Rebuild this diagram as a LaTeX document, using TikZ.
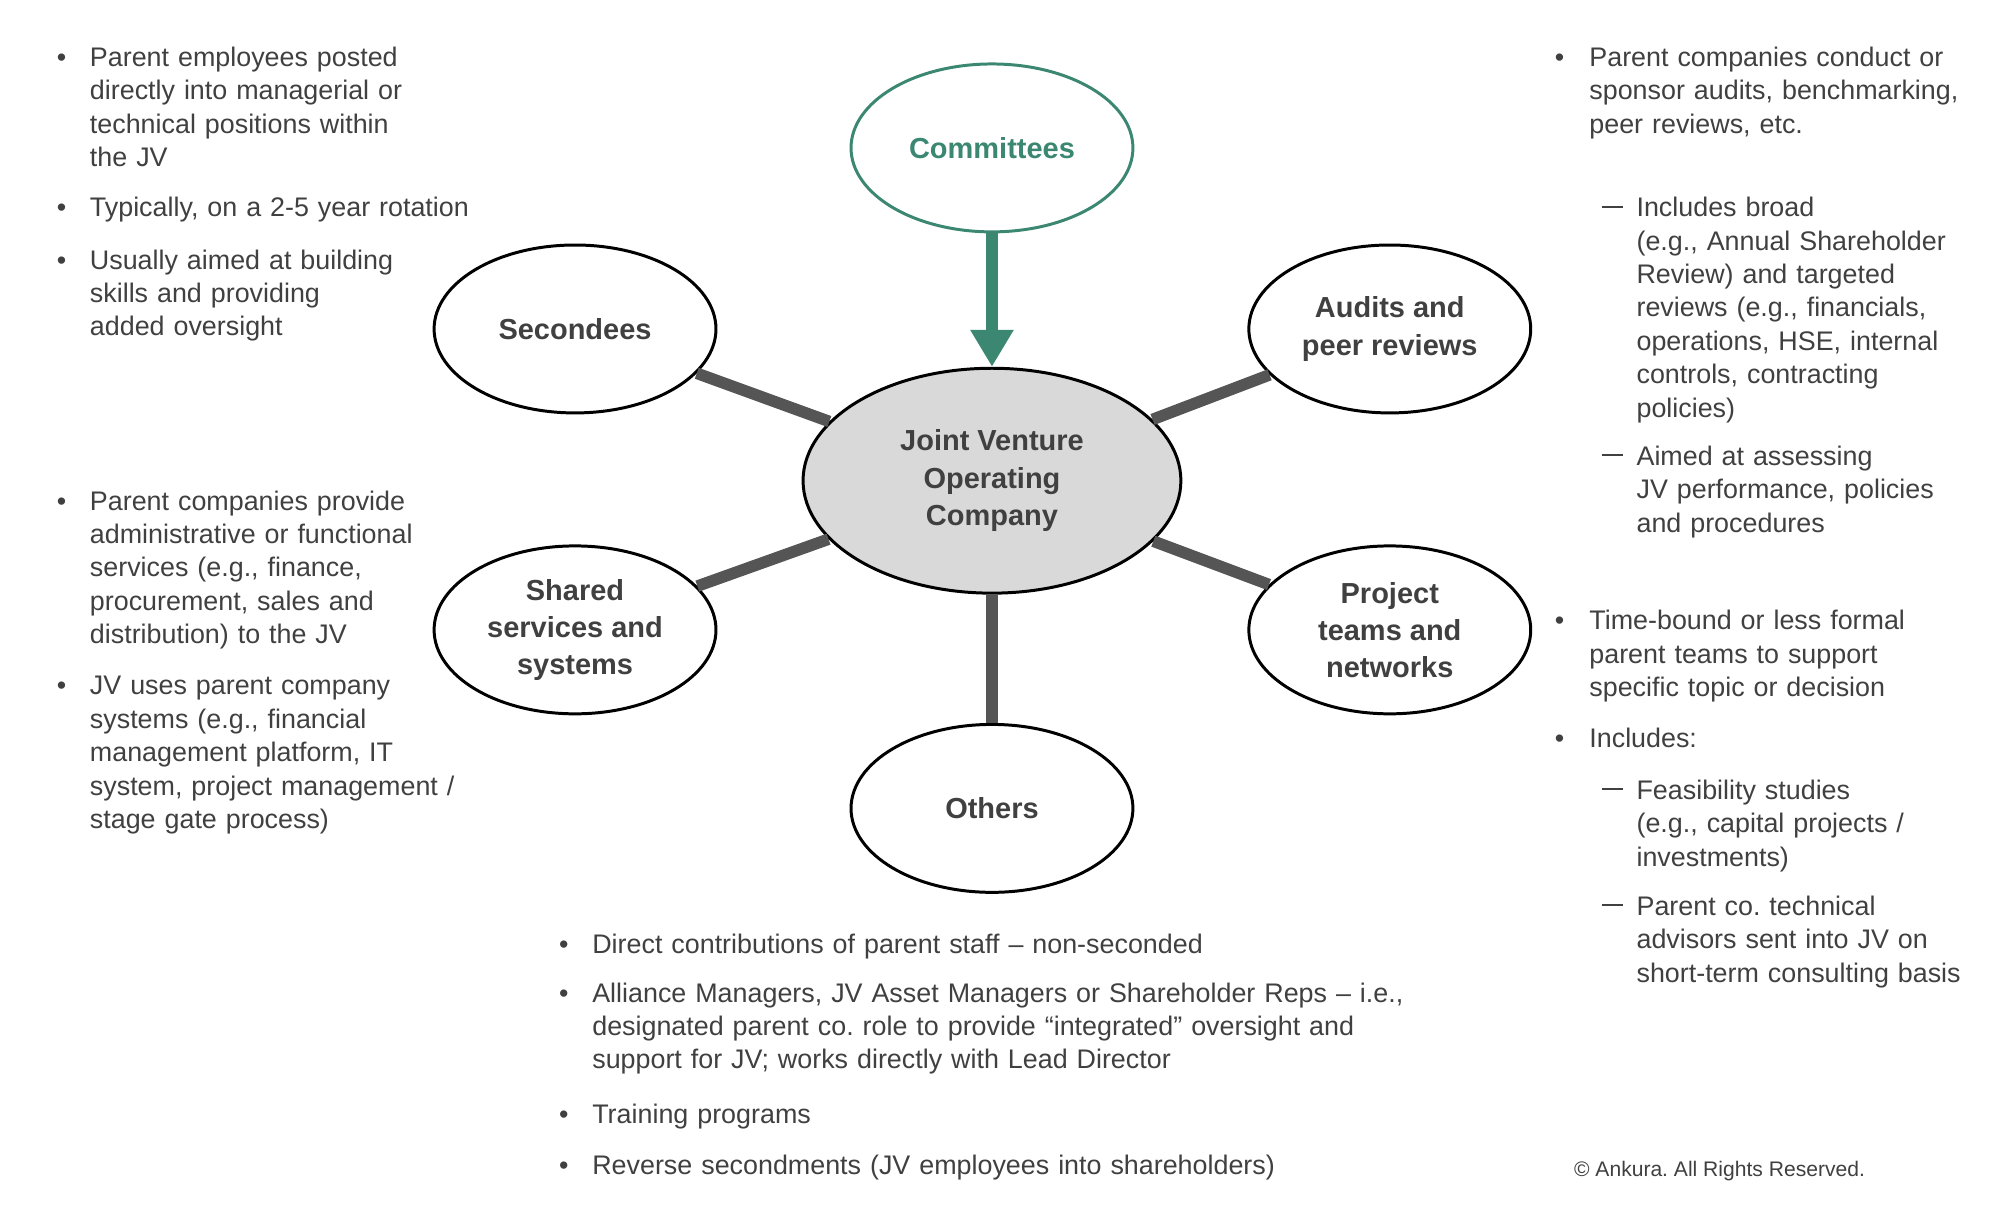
\documentclass[tikz,border=0pt]{standalone}
\usepackage{fontspec}
\setmainfont{Liberation Sans}
\usetikzlibrary{shapes.geometric, arrows.meta}
\frenchspacing

\definecolor{CommitteeGreen}{HTML}{3B8772}
\definecolor{TextGray}{HTML}{404040}
\definecolor{LinkGray}{HTML}{555555}
\definecolor{HubFill}{HTML}{D9D9D9}

\tikzset{
  bubble/.style={ellipse, draw=black, line width=0.85pt, minimum width=2.82cm,
    minimum height=1.68cm, inner sep=0pt, align=center, text=TextGray,
    font=\fontsize{8.25}{10.6}\selectfont\bfseries},
  link/.style={draw=LinkGray, line width=3.3pt},
  txt/.style={anchor=base west, inner sep=0pt, text width=9cm, align=left,
    text=TextGray, font=\fontsize{7.65}{9.5}\selectfont},
  dot/.style={anchor=base west, inner sep=0pt, text=TextGray,
    font=\fontsize{7.65}{9.5}\selectfont},
}

\newcommand{\subdash}{\rule[2.6pt]{6pt}{0.55pt}}

\begin{document}
\begin{tikzpicture}[x=0.01275cm, y=-0.01276cm]

\useasboundingbox (0,0) rectangle (1568.6,955.3);

% bubbles
\node [bubble, fill=HubFill, minimum width=3.78cm, minimum height=2.25cm] (jv) at (778,377)
      {Joint Venture\\Operating\\Company};
\node [bubble, draw=CommitteeGreen, text=CommitteeGreen] (com) at (778,116) {Committees};
\node [bubble] (sec) at (451,258) {Secondees};
\node [bubble] (aud) at (1090,258) {Audits and\\peer reviews};
\node [bubble] (shr) at (451,494) {Shared\\services and\\systems};
\node [bubble] (prj) at (1090,494) {Project\\teams and\\networks};
\node [bubble] (oth) at (778,634) {Others};

\draw [link] (sec) -- (jv);
\draw [link] (aud) -- (jv);
\draw [link] (shr) -- (jv);
\draw [link] (prj) -- (jv);
\draw [link] (oth) -- (jv);
\draw [draw=CommitteeGreen, line width=3.6pt,
       -{Triangle[width=0.41cm, length=0.37cm]}, color=CommitteeGreen] (com) -- (jv);

% secondees
\node [dot] (secDa) at (44,52) {•};
\node [txt] (secA) at (70,52) {Parent employees posted\\directly into managerial or\\technical positions within\\the JV};
\node [dot] (secDb) at (44,170) {•};
\node [txt] (secB) at (70,170) {Typically, on a 2-5 year rotation};
\node [dot] (secDc) at (44,211) {•};
\node [txt] (secC) at (70,211) {Usually aimed at building\\skills and providing\\added oversight};

% shared services
\node [dot] (shrDa) at (44,400) {•};
\node [txt] (shrA) at (70,400) {Parent companies provide\\administrative or functional\\services (e.g., finance,\\procurement, sales and\\distribution) to the JV};
\node [dot] (shrDb) at (44,545) {•};
\node [txt] (shrB) at (70,545) {JV uses parent company\\systems (e.g., financial\\management platform, IT\\system, project management /\\stage gate process)};

% audits
\node [dot] (audDa) at (1219,52) {•};
\node [txt] (audA) at (1246,52) {Parent companies conduct or\\sponsor audits, benchmarking,\\peer reviews, etc.};
\node [dot] (audDb) at (1256,170) {\subdash};
\node [txt] (audB) at (1283,170) {Includes broad\\(e.g., Annual Shareholder\\Review) and targeted\\reviews (e.g., financials,\\operations, HSE, internal\\controls, contracting\\policies)};
\node [dot] (audDc) at (1256,365) {\subdash};
\node [txt] (audC) at (1283,365) {Aimed at assessing\\JV performance, policies\\and procedures};

% project teams
\node [dot] (prjDa) at (1219,494) {•};
\node [txt] (prjA) at (1246,494) {Time-bound or less formal\\parent teams to support\\specific topic or decision};
\node [dot] (prjDb) at (1219,586) {•};
\node [txt] (prjB) at (1246,586) {Includes:};
\node [dot] (prjDc) at (1256,627) {\subdash};
\node [txt] (prjC) at (1283,627) {Feasibility studies\\(e.g., capital projects /\\investments)};
\node [dot] (prjDd) at (1256,718) {\subdash};
\node [txt] (prjD) at (1283,718) {Parent co. technical\\advisors sent into JV on\\short-term consulting basis};

% others
\node [dot] (othDa) at (438,748) {•};
\node [txt] (othA) at (464,748) {Direct contributions of parent staff – non-seconded};
\node [dot] (othDb) at (438,786) {•};
\node [txt] (othB) at (464,786) {Alliance Managers, JV Asset Managers or Shareholder Reps – i.e.,\\designated parent co. role to provide “integrated” oversight and\\support for JV; works directly with Lead Director};
\node [dot] (othDc) at (438,881) {•};
\node [txt] (othC) at (464,881) {Training programs};
\node [dot] (othDd) at (438,921) {•};
\node [txt] (othD) at (464,921) {Reverse secondments (JV employees into shareholders)};

\node [dot, font=\fontsize{6}{7}\selectfont] (copy) at (1234,923) {© Ankura. All Rights Reserved.};

\end{tikzpicture}
\end{document}
